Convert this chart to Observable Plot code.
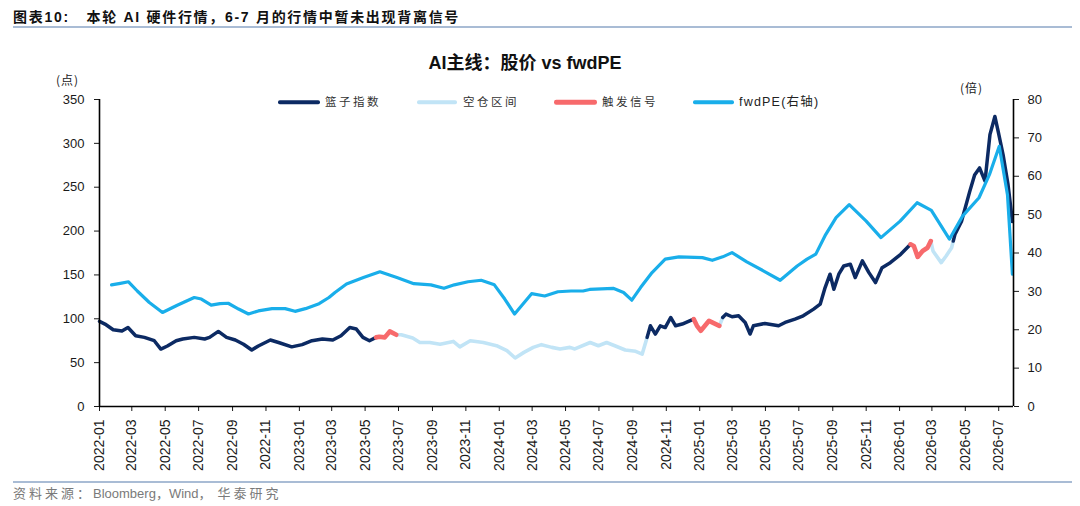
<!DOCTYPE html>
<html><head><meta charset="utf-8">
<script src="https://cdn.jsdelivr.net/npm/d3@7"></script>
<script src="https://cdn.jsdelivr.net/npm/@observablehq/plot@0.6"></script>
<style>
body{margin:0;background:#fff;}
#wrap{position:relative;width:1080px;height:506px;overflow:hidden;font-family:"Liberation Sans",Arial,"Noto Sans CJK SC",sans-serif;}
#wrap svg{position:absolute;left:0;top:0;}
.t{position:absolute;white-space:nowrap;transform:translateY(-50%);line-height:1;}
.cjk{font-family:"Noto Sans CJK SC","Liberation Sans",sans-serif;}
.hl{position:absolute;height:1.5px;background:#a9bcd5;}
.lg{position:absolute;transform:translateY(-50%);}
</style></head><body><div id="wrap"></div>
<script>
// ---------- data ----------
const xTickLabels = ["2022-01","2022-03","2022-05","2022-07","2022-09","2022-11","2023-01","2023-03","2023-05","2023-07","2023-09","2023-11","2024-01","2024-03","2024-05","2024-07","2024-09","2024-11","2025-01","2025-03","2025-05","2025-07","2025-09","2025-11","2026-01","2026-03","2026-05","2026-07"];
const leftTicks = [0,50,100,150,200,250,300,350];
const rightTicks = [0,10,20,30,40,50,60,70,80];

const basketDates = ["2022-01-01","2022-01-11","2022-01-26","2022-02-11","2022-02-22","2022-03-08","2022-03-24","2022-04-11","2022-04-23","2022-05-05","2022-05-21","2022-06-02","2022-06-23","2022-07-12","2022-07-21","2022-08-06","2022-08-21","2022-09-06","2022-09-21","2022-10-06","2022-10-18","2022-11-09","2022-11-24","2022-12-18","2023-01-06","2023-01-24","2023-02-12","2023-03-03","2023-03-18","2023-04-03","2023-04-15","2023-04-27","2023-05-09","2023-05-21",
"2023-05-27","2023-06-06","2023-06-15","2023-06-27",
"2023-07-06","2023-07-27","2023-08-09","2023-08-27","2023-09-15","2023-10-09","2023-10-21","2023-11-09","2023-12-03","2023-12-27","2024-01-15","2024-01-30","2024-02-15","2024-03-03","2024-03-18","2024-04-06","2024-04-21","2024-05-09","2024-05-18","2024-06-15","2024-06-30","2024-07-15","2024-07-30","2024-08-18","2024-09-06","2024-09-18","2024-09-27",
"2024-10-03","2024-10-12","2024-10-21","2024-10-30","2024-11-09","2024-11-18","2024-11-30","2024-12-21",
"2024-12-27","2025-01-03","2025-01-18","2025-02-06",
"2025-02-12",
"2025-02-18","2025-03-01","2025-03-13","2025-03-25","2025-04-03","2025-04-09","2025-04-30","2025-05-25","2025-06-06","2025-06-24","2025-07-09","2025-07-28","2025-08-09","2025-08-18","2025-08-27","2025-09-03","2025-09-12","2025-09-21","2025-10-03","2025-10-12","2025-10-25","2025-11-06","2025-11-18","2025-11-30","2025-12-15","2026-01-03","2026-01-21",
"2026-01-27","2026-02-03","2026-02-12","2026-02-21","2026-02-27",
"2026-03-03","2026-03-18","2026-03-27","2026-04-06","2026-04-09",
"2026-04-12","2026-04-24","2026-05-09","2026-05-18","2026-05-27","2026-06-06","2026-06-15","2026-06-24","2026-06-30","2026-07-09","2026-07-18","2026-07-26"];

const basketValues = [97,94,87.5,86,90,80.7,78.8,75,65.5,69,75,77,78.8,77,78.8,85.6,78.8,75.8,71,64.4,69,75.8,73,68,70.5,75,77,75.8,80.7,90,88.3,78.8,75,78.8,
79.5,78.8,85.6,81.8,
81.8,78,73,73,71,74.2,68,75,73,69.3,63.6,55.3,61.7,67.4,70.5,67.4,65.6,67.4,65.6,73,69.3,73,69.3,64.4,62.9,59.8,78.8,
92,82.6,92,90,101.5,92,94,99.7,
92,86.4,97.7,92,
101.5,
105.3,102.3,103.4,95.8,82.6,92,94.7,92,95.8,99.7,103.4,111,116.7,135.6,150.8,133.7,150.8,160.2,162.2,147,166,152.6,141.3,158.3,164,173.5,184.9,
183,170.5,177.3,181,188.6,
177.3,164,171.6,181,188.6,
196,211,245,264,272,257,310,330.7,313.6,287,253,211];

// state of each basket point: 篮子指数 (holding), 空仓区间 (flat), 触发信号 (signal)
const H = "篮子指数", E = "空仓区间", S = "触发信号";
const basketState = [
H,H,H,H,H,H,H,H,H,H,H,H,H,H,H,H,H,H,H,H,H,H,H,H,H,H,H,H,H,H,H,H,H,H,
S,S,S,S,
E,E,E,E,E,E,E,E,E,E,E,E,E,E,E,E,E,E,E,E,E,E,E,E,E,E,E,
H,H,H,H,H,H,H,H,
S,S,S,S,
E,
H,H,H,H,H,H,H,H,H,H,H,H,H,H,H,H,H,H,H,H,H,H,H,H,H,H,H,
S,S,S,S,S,
E,E,E,E,E,
H,H,H,H,H,H,H,H,H,H,H,H];

const peDates = ["2022-01-23","2022-02-08","2022-02-23","2022-03-11","2022-04-02","2022-04-26","2022-05-23","2022-06-23","2022-07-06","2022-07-24","2022-08-09","2022-08-24","2022-09-12","2022-09-30","2022-10-18","2022-11-12","2022-12-06","2022-12-24","2023-01-12","2023-02-06","2023-02-24","2023-03-07","2023-03-28","2023-04-28","2023-05-28","2023-06-28","2023-07-29","2023-08-29","2023-09-22","2023-10-11","2023-11-05","2023-11-29","2023-12-23","2024-01-11","2024-01-29","2024-02-29","2024-03-24","2024-04-17","2024-05-11","2024-06-02","2024-06-14","2024-07-27","2024-08-15","2024-08-30","2024-09-15","2024-10-06","2024-10-30","2024-11-24","2025-01-06","2025-01-24","2025-02-12","2025-03-01","2025-03-28","2025-04-28","2025-05-28","2025-06-28","2025-07-16","2025-08-01","2025-08-19","2025-09-07","2025-10-01","2025-11-01","2025-11-28","2026-01-02","2026-02-02","2026-02-28","2026-04-02","2026-04-26","2026-05-26","2026-06-14","2026-07-02","2026-07-17","2026-07-26"];
const peValues = [31.7,32.1,32.5,30.1,27.1,24.5,26.4,28.4,28.0,26.4,26.8,26.9,25.4,24.1,24.9,25.5,25.5,24.8,25.5,26.8,28.4,29.7,31.9,33.6,35.1,33.6,32.0,31.7,30.8,31.7,32.5,32.9,31.7,28.0,24.1,29.4,28.8,29.9,30.1,30.1,30.5,30.8,29.7,27.7,31.0,34.9,38.4,39.0,38.8,38.1,39.0,40.1,37.7,35.3,32.9,36.6,38.4,39.7,44.8,49.2,52.6,48.3,44.0,48.3,53.1,51.1,43.6,49.6,54.4,60.4,67.8,55.2,34.5];

// ---------- build ----------
const xStart = new Date("2022-01-01"), xEnd = new Date("2026-07-28");
const K = 350 / 80; // right-axis value -> left-axis units
const colors = {[H]: "#0c2a63", [E]: "#c1e4f6", [S]: "#f76a6c"};
const widths = {[H]: 3.5, [E]: 3.6, [S]: 4.6};

const segRows = [];
let seg = 0;
basketDates.forEach((d, i) => {
  const row = {date: new Date(d), value: basketValues[i], state: basketState[i]};
  if (i > 0 && basketState[i] !== basketState[i - 1]) {
    seg++;
    segRows.push({date: new Date(basketDates[i - 1]), value: basketValues[i - 1], state: basketState[i], seg});
  }
  segRows.push({...row, seg});
});
const peRows = peDates.map((d, i) => ({date: new Date(d), pe: peValues[i]}));
const xTicks = xTickLabels.map(s => new Date(s + "-01"));

const chart = Plot.plot({
  width: 1080, height: 480,
  marginTop: 99, marginBottom: 74, marginLeft: 99, marginRight: 67,
  style: {fontFamily: '"Liberation Sans", Arial, sans-serif', color: "#1a1a1a", background: "transparent", overflow: "visible"},
  x: {type: "utc", domain: [xStart, xEnd], axis: null},
  y: {domain: [0, 350], axis: null},
  marks: [
    ...[E, H, S].map(s => Plot.line(segRows.filter(r => r.state === s), {
      x: "date", y: "value", z: "seg", stroke: colors[s], strokeWidth: widths[s], strokeLinejoin: "round", strokeLinecap: "round"
    })),
    Plot.line(peRows, {x: "date", y: d => d.pe * K, stroke: "#19aeea", strokeWidth: 3.2, strokeLinejoin: "round"}),
    Plot.axisX({ticks: xTicks, tickFormat: d3.utcFormat("%Y-%m"), tickRotate: -90, tickSize: 5, tickPadding: 8, fontSize: 14, label: null}),
    Plot.axisY({anchor: "left", ticks: leftTicks, tickSize: 5, tickPadding: 10, fontSize: 13, label: null}),
    Plot.axisY({anchor: "right", ticks: rightTicks.map(v => v * K), tickFormat: v => String(Math.round(v / K)), tickSize: 5, tickPadding: 9, fontSize: 13, label: null}),
    Plot.ruleY([0], {stroke: "#000", strokeWidth: 1.6}),
    Plot.ruleX([xStart], {stroke: "#000", strokeWidth: 1.6}),
    Plot.ruleX([xEnd], {stroke: "#000", strokeWidth: 1.6})
  ]
});
const wrap = document.getElementById("wrap");
wrap.appendChild(chart);

function addText(txt, x, y, css, cls) {
  const el = document.createElement("div");
  el.className = "t " + (cls || "");
  el.textContent = txt;
  el.style.left = x + "px"; el.style.top = y + "px";
  Object.assign(el.style, css || {});
  wrap.appendChild(el); return el;
}
function addHTML(html, x, y, css) {
  const el = document.createElement("div");
  el.className = "t"; el.innerHTML = html;
  el.style.left = x + "px"; el.style.top = y + "px";
  Object.assign(el.style, css || {});
  wrap.appendChild(el); return el;
}
// header
addHTML('<span style="font-family:\'Noto Sans CJK SC\'">图表</span>10:&nbsp;&nbsp;&nbsp;<span style="font-family:\'Noto Sans CJK SC\'">本轮</span> AI <span style="font-family:\'Noto Sans CJK SC\'">硬件行情，</span>6-7 <span style="font-family:\'Noto Sans CJK SC\'">月的行情中暂未出现背离信号</span>',
  13, 16, {fontSize: "14px", fontWeight: "bold", letterSpacing: "1.7px", color: "#111"});
const l1 = document.createElement("div"); l1.className = "hl";
Object.assign(l1.style, {left: "13px", top: "26px", width: "1059px"}); wrap.appendChild(l1);
// chart title
addHTML('AI<span style="font-family:\'Noto Sans CJK SC\'">主线：股价</span> vs fwdPE', 525, 62, {fontSize: "18px", fontWeight: "bold", color: "#111", transform: "translate(-50%,-50%)"});
// units
addText("(点)", 56, 80, {fontSize: "12px", letterSpacing: "1px", color: "#222"}, "cjk");
addText("(倍)", 960, 88, {fontSize: "12px", letterSpacing: "1px", color: "#222"}, "cjk");
// legend
const legend = [[H, colors[H], 3.5, 278, 320, 325], [E, colors[E], 3.5, 417, 457, 463], [S, colors[S], 4.5, 554, 597, 602], ["fwdPE(右轴)", "#19aeea", 3.5, 693, 734, 739]];
legend.forEach(([lab, col, w, x0, x1, tx]) => {
  const ln = document.createElement("div"); ln.className = "lg";
  Object.assign(ln.style, {left: x0 + "px", top: "102px", width: (x1 - x0) + "px", height: w + "px", background: col, borderRadius: (w / 2) + "px"});
  wrap.appendChild(ln);
  if (lab.startsWith("fwdPE")) addHTML('fwdPE(<span style="font-family:\'Noto Sans CJK SC\'">右轴</span>)', tx, 102, {fontSize: "12.5px", letterSpacing: "1.2px", color: "#222"});
  else addText(lab, tx, 102, {fontSize: "11.5px", letterSpacing: "2.5px", color: "#333"}, "cjk");
});
// footer
const l2 = document.createElement("div"); l2.className = "hl";
Object.assign(l2.style, {left: "13px", top: "481px", width: "1059px"}); wrap.appendChild(l2);
addHTML('<span style="font-family:\'Noto Sans CJK SC\';letter-spacing:3px">资料来源：</span>Bloomberg，Wind，<span style="font-family:\'Noto Sans CJK SC\';letter-spacing:3px">&nbsp;华泰研究</span>',
  13, 493, {fontSize: "13px", color: "#7a7a7a"});
</script></body></html>
